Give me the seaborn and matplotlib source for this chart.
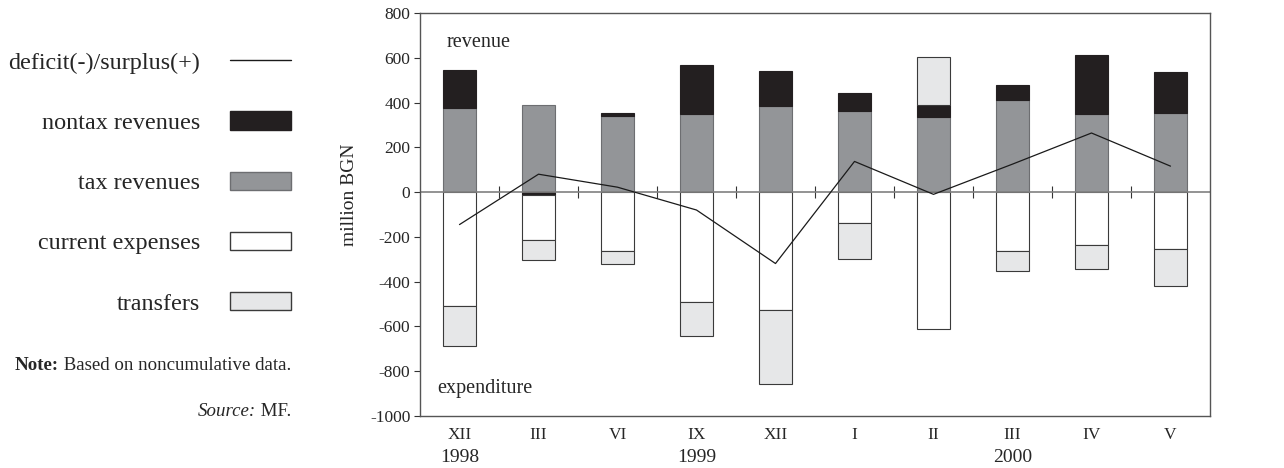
import numpy as np
import pandas as pd
import matplotlib
matplotlib.use("Agg")
import matplotlib.pyplot as plt
import seaborn as sns
from matplotlib.patches import Patch
from matplotlib.lines import Line2D

# ---- data (million BGN) ----
months = ["XII", "III", "VI", "IX", "XII", "I", "II", "III", "IV", "V"]
years = ["1998", "1999", "2000"]
year_at = [0, 3, 7]          # category index under which each year label sits
tax_revenues = [374, 389, 338, 347, 384, 363, 334, 411, 349, 353]
nontax_revenues = [170, -15, 14, 219, 156, 78, 55, 67, 263, 185]
current_expenses = [-510, -200, -265, -489, -527, -136, -611, -261, -237, -256]
transfers = [-177, -86, -58, -155, -328, -162, 216, -91, -106, -163]
balance = [-145, 80, 22, -80, -319, 137, -10, 125, 264, 116]
yticks = [800, 600, 400, 200, 0, -200, -400, -600, -800, -1000]

sns.set_theme(style="white")
plt.rcParams["font.family"] = ["Liberation Serif", "DejaVu Serif"]
plt.rcParams["axes.unicode_minus"] = False

C_NONTAX = "#231f20"
C_TAX = "#939598"
C_CUR = "#ffffff"
C_TRF = "#e6e7e8"
EDGE = "#3a3a3a"

n = len(months)
idx = np.arange(n)
tax = np.array(tax_revenues, float)
nontax = np.array(nontax_revenues, float)
cur = np.array(current_expenses, float)
trf = np.array(transfers, float)

# stacking bases
pos_top = tax.copy()
nontax_bottom = np.where(nontax >= 0, tax, 0.0)
pos_top = pos_top + np.clip(nontax, 0, None)
neg_top = np.clip(nontax, None, 0)
cur_bottom = neg_top.copy()
neg_top = neg_top + cur
trf_bottom = np.where(trf >= 0, pos_top, neg_top)

fig = plt.figure(figsize=(12.84, 4.68), dpi=100)
ax = fig.add_axes([420 / 1284, 52 / 468, 790 / 1284, 403 / 468])

W = 0.42
layers = [
    (tax, np.zeros(n), C_TAX, "#6d6e71"),
    (nontax, nontax_bottom, C_NONTAX, C_NONTAX),
    (cur, cur_bottom, C_CUR, EDGE),
    (trf, trf_bottom, C_TRF, EDGE),
]
for vals, bottoms, col, ec in layers:
    df = pd.DataFrame({"x": idx, "v": vals})
    sns.barplot(data=df, x="x", y="v", bottom=bottoms, color=col, width=W,
                saturation=1, edgecolor=ec, linewidth=0.8, ax=ax, errorbar=None)

ax.set_ylim(-1000, 800)
ax.set_xlim(-0.5, n - 0.5)
ax.axhline(0, color="#808080", lw=1.2, zorder=1.5)

dfl = pd.DataFrame({"x": idx, "v": balance})
sns.lineplot(data=dfl, x="x", y="v", color="#1a1a1a", lw=0.9, ax=ax, zorder=5)

ax.set_yticks(yticks)
ax.set_yticklabels([str(t) for t in yticks], fontsize=12.5)
ax.tick_params(axis="y", length=4, width=0.8, color="#333333", left=True, pad=3)
ax.set_xticks(idx)
ax.set_xticklabels(months, fontsize=12.5)
ax.tick_params(axis="x", length=0, pad=8)
ax.set_xlabel("")
ax.set_ylabel("million BGN", fontsize=14)
ax.yaxis.set_label_coords(-0.078, 0.548)
for s in ax.spines.values():
    s.set_color("#555555")
    s.set_linewidth(1.0)

# ticks on the zero line between categories
zero_frac = (0 - (-1000)) / (800 - (-1000))
sec = ax.secondary_xaxis(zero_frac)
sec.set_xticks(idx[:-1] + 0.5)
sec.set_xticklabels([])
sec.tick_params(axis="x", direction="inout", length=8, width=0.8, color="#333333")
sec.spines["bottom"].set_visible(False)
sec.spines["top"].set_visible(False)

# year labels
for y, i in zip(years, year_at):
    ax.text(i, -0.102, y, transform=ax.get_xaxis_transform(), ha="center",
            va="center", fontsize=14)

ax.text(0.033, 0.928, "revenue", transform=ax.transAxes, fontsize=14.5, va="center")
ax.text(0.022, 0.067, "expenditure", transform=ax.transAxes, fontsize=14.5, va="center")

# legend at left
handles = [
    Line2D([0], [0], color="#1a1a1a", lw=1.0),
    Patch(facecolor=C_NONTAX, edgecolor=C_NONTAX),
    Patch(facecolor=C_TAX, edgecolor="#6d6e71"),
    Patch(facecolor=C_CUR, edgecolor=EDGE),
    Patch(facecolor=C_TRF, edgecolor=EDGE),
]
labels = ["deficit(-)/surplus(+)", "nontax revenues", "tax revenues",
          "current expenses", "transfers"]
fig.legend(handles, labels, markerfirst=False, frameon=False,
           loc="upper right", bbox_to_anchor=(291 / 1284, 1 - 51 / 468),
           fontsize=17.4, handlelength=2.52, handleheight=0.79,
           handletextpad=1.24, labelspacing=1.56, borderaxespad=0, borderpad=0)

# note and source (mixed styles built from adjacent text pieces)
t1 = fig.text(291 / 1284, 1 - 365 / 468, " Based on noncumulative data.",
              ha="right", va="center", fontsize=13.6)
t2 = fig.text(291 / 1284, 1 - 412 / 468, " MF.", ha="right", va="center",
              fontsize=13.6)
fig.canvas.draw()
bb = t1.get_window_extent()
fig.text(bb.x0 / fig.bbox.width, 1 - 365 / 468, "Note:", fontsize=13.6,
         fontweight="bold", ha="right", va="center")
bb2 = t2.get_window_extent()
fig.text(bb2.x0 / fig.bbox.width, 1 - 412 / 468, "Source:", fontsize=13.6,
         fontstyle="italic", ha="right", va="center")

fig.savefig("out.png", dpi=100)
